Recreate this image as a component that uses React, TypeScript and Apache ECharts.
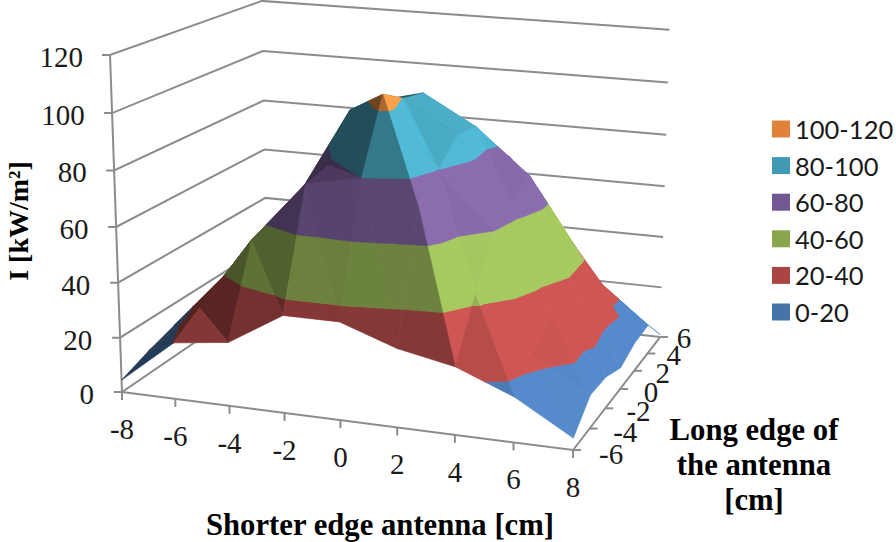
import React, { useEffect, useRef } from "react";
import * as echarts from "echarts";

const xValues = [-8, -6, -4, -2, 0, 2, 4, 6, 8];
const yValues = [-6, -4, -2, 0, 2, 4, 6];
const zTicks = [0, 20, 40, 60, 80, 100, 120];
const bandNames = ["0-20", "20-40", "40-60", "60-80", "80-100", "100-120"];
const bandColors = ["#4F81BD", "#C0504D", "#9BBB59", "#8064A2", "#4BACC6", "#F79646"];
const legendColors = ["#4473A8", "#AB4542", "#8AA64D", "#715893", "#409AB3", "#E0823A"];
const row_m6 = [4.4, 20.5, 23, 35, 35, 28, 24, 16, 4.2];
const row_m4 = [8.5, 27, 54, 76, 80, 72, 43, 23, 12];
const row_m2 = [11.8, 33, 57, 78, 105, 80, 60, 33, 11.5];
const row_0 = [10.6, 33, 60, 93.6, 99.5, 88, 64, 42, 8];
const row_2 = [8, 28, 60, 92.5, 97.5, 86.5, 70, 41, 10.8];
const row_4 = [5, 20, 50, 78, 85, 75, 56, 27, 11.2];
const row_6 = [2, 12, 35, 55, 68, 66, 41, 15, 1];
const surface = [row_m6, row_m4, row_m2, row_0, row_2, row_4, row_6];

type P2 = [number, number];
type P3 = [number, number, number];

// projective camera of the 3-D box
function depth(x: number, y: number, z: number) {
  const u = (x + 8) / 16, v = (y + 6) / 12, t = z / 120;
  return 1 - 0.0612 * u + 0.1611 * v - 0.04 * t;
}
function project(x: number, y: number, z: number): P2 {
  const u = (x + 8) / 16, v = (y + 6) / 12, t = z / 120;
  const w = depth(x, y, z);
  return [(416 * u + 188 * v - 16.4 * t + 122) / w, (30.5 * u - 51.8 * v - 339.2 * t + 392) / w];
}

function clip(poly: P3[], limit: number, keepAbove: boolean): P3[] {
  const out: P3[] = [];
  const inside = (p: P3) => (keepAbove ? p[2] >= limit : p[2] <= limit);
  for (let i = 0; i < poly.length; i++) {
    const a = poly[i], b = poly[(i + 1) % poly.length];
    if (inside(a)) out.push(a);
    if (inside(a) !== inside(b)) {
      const t = (limit - a[2]) / (b[2] - a[2]);
      out.push([a[0] + (b[0] - a[0]) * t, a[1] + (b[1] - a[1]) * t, limit]);
    }
  }
  return out;
}

function shadeColor(hex: string, s: number) {
  const n = parseInt(hex.slice(1), 16);
  const ch = [(n >> 16) & 255, (n >> 8) & 255, n & 255].map((c) => Math.min(255, Math.round(c * s)));
  return `rgb(${ch[0]},${ch[1]},${ch[2]})`;
}

// brightness of a face from the x component of its normal
function lightOf(nx: number) {
  if (nx >= 0.45) return 1 + Math.min(0.08, ((nx - 0.45) / 0.25) * 0.08);
  if (nx >= 0.22) return 0.7 + ((nx - 0.22) / 0.23) * 0.3;
  if (nx >= -0.12) return 0.68 + ((nx + 0.12) / 0.34) * 0.02;
  return Math.max(0.45, 0.68 + ((nx + 0.12) / 0.43) * 0.23);
}

type Piece = { pts: P3[]; order: number; fill: string };
function buildPieces(): Piece[][] {
  const tris: { t: P3[]; d: number }[] = [];
  for (let r = 0; r < yValues.length - 1; r++) {
    for (let c = 0; c < xValues.length - 1; c++) {
      const A: P3 = [xValues[c], yValues[r], surface[r][c]];
      const B: P3 = [xValues[c + 1], yValues[r], surface[r][c + 1]];
      const C: P3 = [xValues[c + 1], yValues[r + 1], surface[r + 1][c + 1]];
      const D: P3 = [xValues[c], yValues[r + 1], surface[r + 1][c]];
      for (const t of [[A, B, D], [B, C, D]] as P3[][]) {
        const d = t.reduce((s, p) => s + depth(p[0], p[1], 0), 0) / 3;
        tris.push({ t, d });
      }
    }
  }
  tris.sort((a, b) => b.d - a.d);
  const res: Piece[][] = bandNames.map(() => []);
  tris.forEach((tr, order) => {
    const [a, b, c] = tr.t;
    const ux = b[0] - a[0], uy = b[1] - a[1], uz = (b[2] - a[2]) / 8;
    const vx = c[0] - a[0], vy = c[1] - a[1], vz = (c[2] - a[2]) / 8;
    let nx = uy * vz - uz * vy, ny = uz * vx - ux * vz, nz = ux * vy - uy * vx;
    if (nz < 0) { nx = -nx; ny = -ny; nz = -nz; }
    const len = Math.hypot(nx, ny, nz) || 1;
    const meanZ = (a[2] + b[2] + c[2]) / 3;
    const s = lightOf(nx / len + 0.2 * (1 - meanZ / 60));
    bandNames.forEach((_, i) => {
      const lo = i * 20, hi = lo + 20;
      let poly = clip(tr.t, lo, true);
      if (poly.length) poly = clip(poly, hi, false);
      if (poly.length >= 3) res[i].push({ pts: poly, order, fill: shadeColor(bandColors[i], s) });
    });
  });
  return res;
}

const AXIS = "#8c8c8c";
const LEGEND_FONT = "Lato";
const SERIF = "'Liberation Serif'";

export default function App() {
  const ref = useRef<HTMLDivElement>(null);
  useEffect(() => {
    document.body.style.margin = "0";
    const chart = echarts.init(ref.current!, undefined, { renderer: "svg" });
    const pieces = buildPieces();

    const bandSeries = bandNames.map((name, i) => ({
      name,
      type: "custom",
      coordinateSystem: "cartesian2d",
      clip: false,
      silent: true,
      z: 5,
      itemStyle: { color: legendColors[i] },
      data: pieces[i].map((_, k) => [k, 0]),
      renderItem: (params: any, api: any) => {
        const pc = pieces[i][params.dataIndex];
        return {
          type: "polygon",
          z2: pc.order,
          shape: { points: pc.pts.map((p) => api.coord(project(p[0], p[1], p[2]))) },
          style: { fill: pc.fill, stroke: pc.fill, lineWidth: 0.7 },
        };
      },
    }));

    const wallSeries = {
      type: "custom",
      coordinateSystem: "cartesian2d",
      clip: false,
      silent: true,
      z: 2,
      data: zTicks.map((z) => [z, 0]),
      renderItem: (params: any, api: any) => {
        const z = zTicks[params.dataIndex];
        const a = api.coord(project(-8, -6, z)), b = api.coord(project(-8, 6, z)), c = api.coord(project(8, 6, z));
        return {
          type: "polyline",
          shape: { points: [[a[0] - 8, a[1]], a, b, c] },
          style: { fill: "none", stroke: AXIS, lineWidth: 2 },
        };
      },
    };
    const axisSeries = {
      type: "custom",
      coordinateSystem: "cartesian2d",
      clip: false,
      silent: true,
      z: 3,
      data: [[0, 0]],
      renderItem: (_: any, api: any) => {
        const L = (p: P2[]) => ({ type: "polyline", shape: { points: p }, style: { fill: "none", stroke: AXIS, lineWidth: 2 } });
        const ch: any[] = [];
        ch.push(L([api.coord(project(-8, -6, 0)), api.coord(project(-8, -6, 120))]));
        ch.push(L([api.coord(project(-8, -6, 0)), api.coord(project(8, -6, 0)), api.coord(project(8, 6, 0))]));
        xValues.forEach((x) => {
          const p = api.coord(project(x, -6, 0));
          ch.push(L([p, [p[0], p[1] + 8]]));
        });
        yValues.forEach((y) => {
          const p = api.coord(project(8, y, 0));
          ch.push(L([p, [p[0] + 8, p[1]]]));
        });
        return { type: "group", children: ch };
      },
    };
    const labelSeries = {
      type: "custom",
      coordinateSystem: "cartesian2d",
      clip: false,
      silent: true,
      z: 10,
      data: [[0, 0]],
      renderItem: (_: any, api: any) => {
        const T = (text: string, x: number, y: number, align = "center") => ({
          type: "text",
          style: { text, x, y, align, verticalAlign: "middle", fontFamily: SERIF, fontSize: 29, fill: "#1a1a1a" },
        });
        const ch: any[] = [];
        zTicks.forEach((z) => {
          const p = api.coord(project(-8, -6, z));
          ch.push(T(String(z), 94 - (11 * z) / 120, p[1] + 2, "right"));
        });
        xValues.forEach((x) => {
          const p = api.coord(project(x, -6, 0));
          ch.push(T(String(x), p[0], p[1] + 37));
        });
        yValues.forEach((y) => {
          const v = (y + 6) / 12;
          const p = api.coord(project(8, y, 0));
          ch.push(T(String(y), p[0] + 38 - 14 * v, p[1] + 4 - 3 * v));
        });
        return { type: "group", children: ch };
      },
    };

    const bold = { fontFamily: SERIF, fontWeight: "bold", fontSize: 30.7, fill: "#000" };
    chart.setOption({
      animation: false,
      backgroundColor: "#fff",
      grid: { left: 0, right: 0, top: 0, bottom: 0 },
      xAxis: { type: "value", min: 0, max: 896, show: false },
      yAxis: { type: "value", min: 0, max: 542, inverse: true, show: false },
      legend: {
        orient: "vertical",
        left: 767,
        top: 111,
        icon: "rect",
        itemWidth: 18,
        itemHeight: 17,
        itemGap: 10.6,
        selectedMode: false,
        textStyle: { fontFamily: LEGEND_FONT, fontSize: 25.5, color: "#1a1a1a" },
        data: [...bandNames].reverse(),
      },
      series: [wallSeries, axisSeries, ...bandSeries, labelSeries],
      graphic: [
        { type: "text", x: 18, y: 221, rotation: Math.PI / 2, style: { text: "I [kW/m²]", align: "center", verticalAlign: "middle", ...bold, fontSize: 28 } },
        { type: "text", x: 380, y: 525, style: { text: "Shorter edge antenna [cm]", align: "center", verticalAlign: "middle", ...bold } },
        { type: "text", x: 754, y: 430, style: { text: "Long edge of", align: "center", verticalAlign: "middle", ...bold } },
        { type: "text", x: 754, y: 465, style: { text: "the antenna", align: "center", verticalAlign: "middle", ...bold } },
        { type: "text", x: 754, y: 500, style: { text: "[cm]", align: "center", verticalAlign: "middle", ...bold } },
      ],
    });
    return () => chart.dispose();
  }, []);
  return <div ref={ref} style={{ position: "absolute", left: 0, top: 0, width: 896, height: 542 }} />;
}
